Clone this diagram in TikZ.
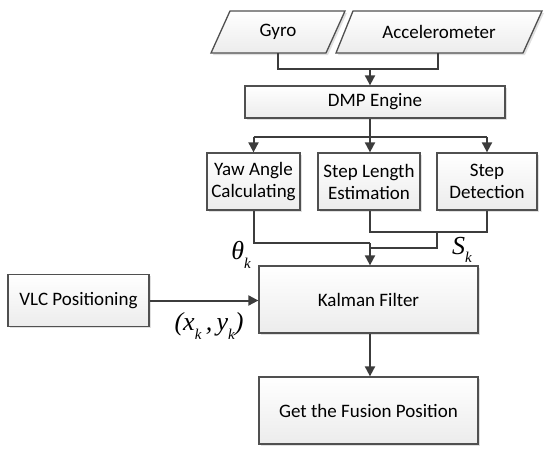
\documentclass[tikz,border=0pt]{standalone}
\usepackage{fontspec}
\setmainfont{Carlito}
\newfontfamily\tms{Liberation Serif}
\usetikzlibrary{arrows.meta,shadows}
\definecolor{lnc}{HTML}{3C3C3C}
\definecolor{bdc}{HTML}{505050}
\newcommand\subk{\raisebox{-0.32em}{\fontsize{15}{15}\selectfont k}}
\begin{document}
\begin{tikzpicture}[x=1pt,y=-1pt,
  box/.style={draw=bdc,line width=1.3pt,top color=white,bottom color=gray!15,
    drop shadow={shadow xshift=1.5pt,shadow yshift=-1.5pt,fill=gray!40,opacity=0.6},
    align=center,inner sep=0pt,font=\fontsize{19}{22}\selectfont},
  para/.style={draw=bdc,line width=1.3pt,top color=white,bottom color=gray!15},
  txt/.style={font=\fontsize{19}{22}\selectfont,inner sep=0pt},
  conn/.style={draw=lnc,line width=2pt},
  arr/.style={conn,-{Triangle[length=10pt,width=10pt]}},
  lbl/.style={font=\tms\itshape\fontsize{26}{26}\selectfont,inner sep=0pt}]
\useasboundingbox (0,0) rectangle (550,456);
\fill[white] (0,0) rectangle (550,456);
% parallelograms
\fill[gray!40,opacity=0.6] (232,13) -- (347,13) -- (328,55) -- (213,55) -- cycle;
\path[para] (230,11) -- (345,11) -- (326,53) -- (211,53) -- cycle;
\fill[gray!40,opacity=0.6] (355,13) -- (544,13) -- (525,55) -- (338,55) -- cycle;
\path[para] (353,11) -- (542,11) -- (523,53) -- (336,53) -- cycle;
\node[txt] (gyro) at (278,32) {Gyro};
\node[txt] (acc) at (439,32) {Accelerometer};
\coordinate (gyros) at (278,53);
\coordinate (accs) at (438,53);
% boxes
\node[box,minimum width=260pt,minimum height=32pt] (dmp) at (375,102) {DMP Engine};
\node[box,minimum width=93pt,minimum height=57pt] (yaw) at (253.5,181.5) {Yaw Angle\\Calculating};
\node[box,minimum width=102pt,minimum height=57pt] (sle) at (369,181.5) {Step Length\\Estimation};
\node[box,minimum width=100pt,minimum height=57pt] (sd) at (487,181.5) {Step\\Detection};
\node[box,minimum width=219pt,minimum height=67pt] (kf) at (368.5,299.5) {Kalman Filter};
\node[box,minimum width=219pt,minimum height=67pt] (gf) at (368.5,410.5) {Get the Fusion Position};
\node[box,minimum width=141pt,minimum height=52pt] (vlc) at (78.5,300.5) {VLC Positioning};
% junction coordinates
\coordinate (j1) at (370,69);
\coordinate (j2) at (370,137);
\coordinate (j3) at (370,243);
\coordinate (j4) at (437,232);
% connectors
\draw[conn] (gyros) |- (accs |- j1) -- (accs);
\draw[arr] (j1) -- (j1 |- dmp.north);
\draw[conn] (j2 |- dmp.south) -- (j2);
\draw[conn] (yaw.north |- j2) -- (sd.north |- j2);
\draw[arr] (yaw.north |- j2) -- (yaw.north);
\draw[arr] (j2) -- (j2 |- sle.north);
\draw[arr] (sd.north |- j2) -- (sd.north);
\draw[conn] (yaw.south) |- (j3);
\draw[conn] (j2 |- sle.south) |- (sd.south |- j4) -- (sd.south);
\draw[conn] (j4) |- (370,248);
\draw[arr] (j3) -- (j3 |- kf.north);
\draw[arr] (vlc.east) -- (vlc.east -| kf.west);
\draw[arr] (j3 |- kf.south) -- (j3 |- gf.north);
% labels
\node[lbl] (th) at (241,255) {θ\subk};
\node[lbl] (sk) at (462,250) {S\subk};
\node[lbl] (xy) at (209,326) {(x\subk\,,\,y\subk)};
\end{tikzpicture}
\end{document}
